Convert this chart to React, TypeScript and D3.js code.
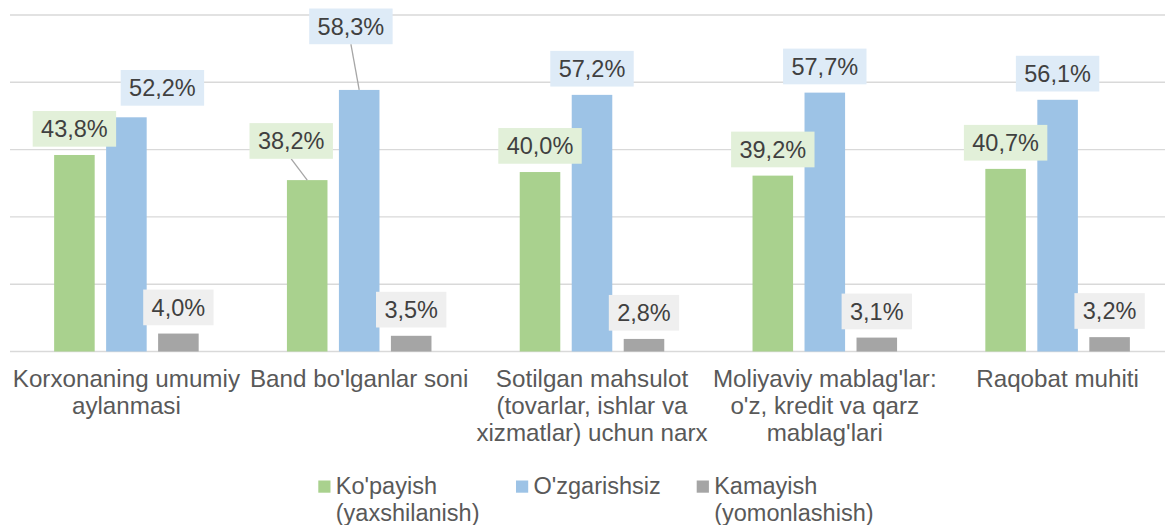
import React from "react";
import * as d3 from "d3";

const categories = [
  "Korxonaning umumiy aylanmasi",
  "Band bo'lganlar soni",
  "Sotilgan mahsulot (tovarlar, ishlar va xizmatlar) uchun narx",
  "Moliyaviy mablag'lar: o'z, kredit va qarz mablag'lari",
  "Raqobat muhiti",
];
const categoryLines = [
  ["Korxonaning umumiy", "aylanmasi"],
  ["Band bo'lganlar soni"],
  ["Sotilgan mahsulot", "(tovarlar, ishlar va", "xizmatlar) uchun narx"],
  ["Moliyaviy mablag'lar:", "o'z, kredit va qarz", "mablag'lari"],
  ["Raqobat muhiti"],
];
const seriesNames = ["Ko'payish (yaxshilanish)", "O'zgarishsiz", "Kamayish (yomonlashish)"];
const legendLines = [["Ko'payish", "(yaxshilanish)"], ["O'zgarishsiz"], ["Kamayish", "(yomonlashish)"]];
const kopayish = [43.8, 38.2, 40.0, 39.2, 40.7];
const ozgarishsiz = [52.2, 58.3, 57.2, 57.7, 56.1];
const kamayish = [4.0, 3.5, 2.8, 3.1, 3.2];
const yTicks = [0, 15, 30, 45, 60, 75];

const seriesValues = [kopayish, ozgarishsiz, kamayish];
const barColors = ["#A9D18E", "#9DC3E6", "#A5A5A5"];
const labelBg = ["#E2F0D9", "#DEEBF7", "#EFEFEF"];

// manual label nudges (styling): [category, series, dx, dy, leader]
const labelNudges: [number, number, number, number, boolean][] = [
  [0, 1, 36, -3.3, false],
  [1, 0, -16, -13, true],
  [1, 1, -8.3, -37.4, true],
];

const W = 1165;
const H = 525;
const FONT = "'Liberation Sans', Arial, sans-serif";
const FS = 23.5;
const CAT_FS = 24.2;

const locale = d3.formatLocale({ decimal: ",", thousands: " ", grouping: [3], currency: ["", ""] });
const fmt = locale.format(".1f");

let ctx: CanvasRenderingContext2D | null = null;
function measure(t: string) {
  if (!ctx) ctx = document.createElement("canvas").getContext("2d");
  if (!ctx) return t.length * FS * 0.55;
  ctx.font = `${FS}px ${FONT}`;
  return ctx.measureText(t).width;
}

export default function App() {
  React.useEffect(() => {
    document.body.style.margin = "0";
  }, []);

  const x0 = d3.scaleBand<string>().domain(categories).range([10, 1174]).padding(0);
  const bw = x0.bandwidth();
  const x1 = d3
    .scaleBand<string>()
    .domain(seriesNames)
    .range([-0.335 * bw, 0.335 * bw])
    .paddingInner(0.22)
    .paddingOuter(0.11);
  const y = d3.scaleLinear().domain([0, 75]).range([351.5, 15]);

  const boxH = 35.7;
  const gap = 8.3;

  const bars: React.ReactNode[] = [];
  const labels: React.ReactNode[] = [];
  categories.forEach((c, ci) => {
    const cx = x0(c)! + bw / 2;
    seriesNames.forEach((s, si) => {
      const v = seriesValues[si][ci];
      const bx = cx + x1(s)!;
      const top = y(v);
      bars.push(
        <rect key={`b${ci}-${si}`} x={bx} y={top} width={x1.bandwidth()} height={y(0) - top} fill={barColors[si]} />
      );
      const txt = fmt(v) + "%";
      const tw = measure(txt);
      const boxW = tw + 16.8;
      const nudge = labelNudges.find((n) => n[0] === ci && n[1] === si);
      const barCx = bx + x1.bandwidth() / 2;
      const lcx = barCx + (nudge ? nudge[2] : 0);
      const bottom = top - gap + (nudge ? nudge[3] : 0);
      labels.push(
        <g key={`l${ci}-${si}`}>
          {nudge && nudge[4] ? (
            <line x1={lcx} y1={bottom} x2={barCx} y2={top} stroke="#A6A6A6" strokeWidth={1.3} />
          ) : null}
          <rect x={lcx - boxW / 2} y={bottom - boxH} width={boxW} height={boxH} fill={labelBg[si]} />
          <text x={lcx} y={bottom - 9.4} textAnchor="middle" fontSize={FS} fill="#404040" fontFamily={FONT}>
            {txt}
          </text>
        </g>
      );
    });
  });

  const legendX = [318.3, 516, 696.7];

  return (
    <svg width={W} height={H} style={{ position: "absolute", left: 0, top: 0, background: "#fff" }} fontFamily={FONT}>
      <rect width={W} height={H} fill="#fff" />
      {yTicks.map((t) => (
        <line key={t} x1={10} x2={W} y1={y(t)} y2={y(t)} stroke="#D9D9D9" strokeWidth={1.4} />
      ))}
      {bars}
      {labels}
      {categories.map((c, ci) => {
        const cx = x0(c)! + bw / 2;
        return (
          <text key={c} textAnchor="middle" fontSize={CAT_FS} fill="#595959">
            {categoryLines[ci].map((ln, li) => (
              <tspan key={li} x={cx} y={387.3 + li * 27}>
                {ln}
              </tspan>
            ))}
          </text>
        );
      })}
      {seriesNames.map((s, si) => (
        <g key={s}>
          <rect x={legendX[si]} y={480.5} width={12.2} height={12.2} fill={barColors[si]} />
          <text fontSize={FS} fill="#595959">
            {legendLines[si].map((ln, li) => (
              <tspan key={li} x={legendX[si] + 17.5} y={494 + li * 26.5}>
                {ln}
              </tspan>
            ))}
          </text>
        </g>
      ))}
    </svg>
  );
}
